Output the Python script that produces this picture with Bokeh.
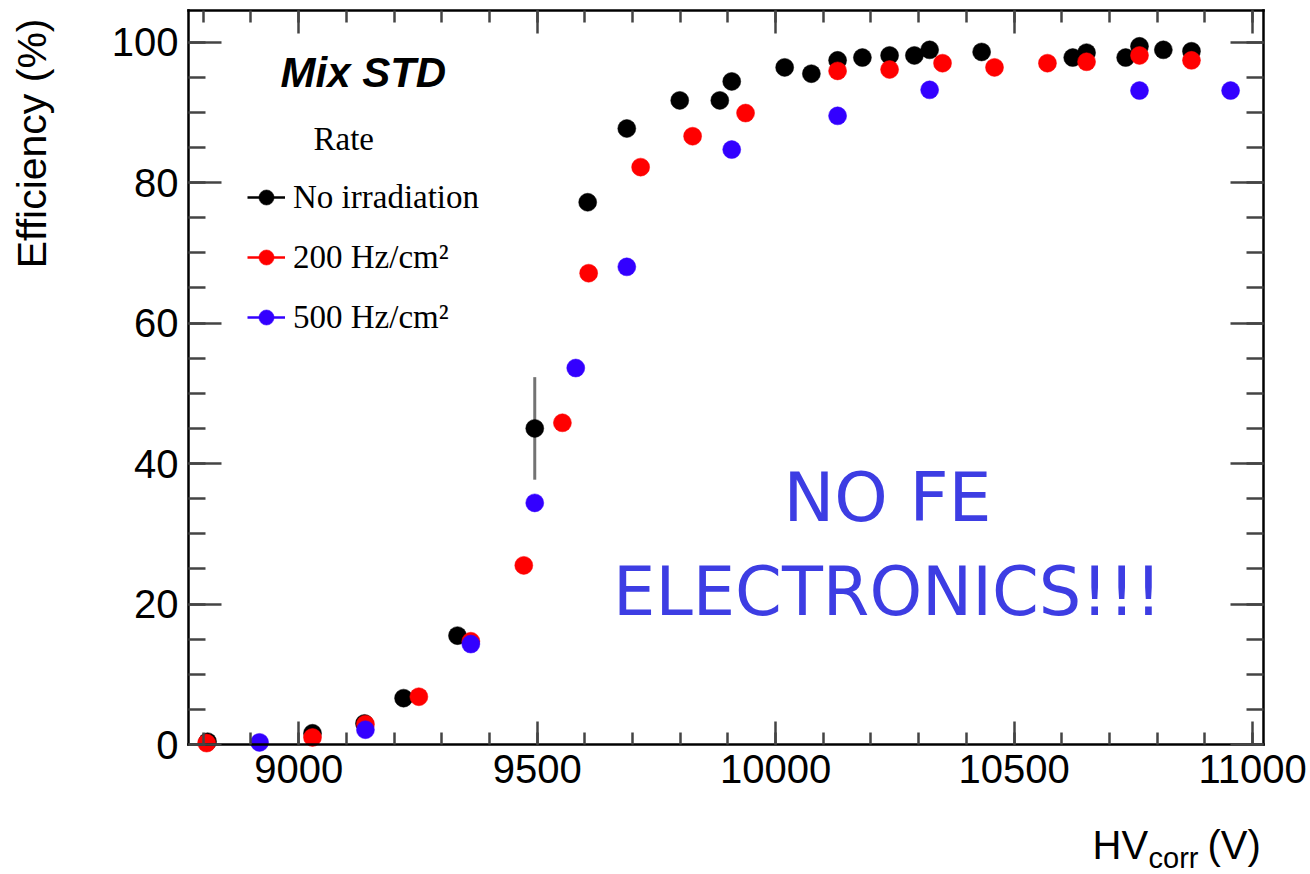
import math
from bokeh.plotting import figure
from bokeh.models import (Range1d, SingleIntervalTicker, LinearAxis, Label,
                          Legend, LegendItem, ColumnDataSource)
from bokeh.embed import file_html
from bokeh.resources import INLINE

# Efficiency vs corrected HV, three irradiation rates
hv_noirr = [8809, 9029, 9138, 9220, 9333, 9495, 9606, 9688, 9799, 9883, 9908,
            10019, 10075, 10130, 10182, 10239, 10291, 10323, 10432, 10623,
            10652, 10734, 10763, 10813, 10872]
eff_noirr = [0.4, 1.6, 3.0, 6.6, 15.5, 45.0, 77.2, 87.7, 91.7, 91.7, 94.4,
             96.4, 95.5, 97.4, 97.8, 98.1, 98.1, 98.9, 98.6, 97.8,
             98.5, 97.8, 99.4, 98.9, 98.7]
err_noirr = [0, 0, 0, 0, 0, 7.3, 0, 0, 0, 0, 0,
             0, 0, 0, 0, 0, 0, 0, 0, 0,
             0, 0, 0, 0, 0]

hv_200 = [8807, 9029, 9140, 9252, 9361, 9472, 9553, 9608, 9717, 9826, 9937,
          10130, 10239, 10350, 10459, 10570, 10652, 10763, 10872]
eff_200 = [0.2, 1.0, 2.9, 6.8, 14.7, 25.5, 45.8, 67.1, 82.2, 86.6, 89.9,
           95.9, 96.1, 97.0, 96.4, 97.0, 97.2, 98.1, 97.4]

hv_500 = [8918, 9140, 9361, 9495, 9581, 9688, 9908, 10130, 10323, 10763, 10954]
eff_500 = [0.3, 2.1, 14.3, 34.4, 53.6, 68.0, 84.7, 89.5, 93.2, 93.1, 93.1]

series_labels = ["No irradiation", "200 Hz/cm\u00b2", "500 Hz/cm\u00b2"]
series_colors = ["#000000", "#ff0000", "#3300ff"]

x_ticks_major = 500
y_ticks_major = 20

# axis box limits (data) and where that box sits on the canvas (pixels)
x_lo, x_hi = 8769, 11023
y_lo, y_hi = 0, 104.5
W, H = 1310, 874
box_left, box_right, box_top, box_bottom = 188, 1263, 10, 744

SANS = "Liberation Sans"
SERIF = "Liberation Serif"

# the plot frame spans the whole canvas; axes are pinned to the box edges
kx = (x_hi - x_lo) / (box_right - box_left)
ky = (y_hi - y_lo) / (box_bottom - box_top)
x_range = Range1d(x_lo - box_left * kx, x_hi + (W - box_right) * kx)
y_range = Range1d(y_lo - (H - box_bottom) * ky, y_hi + box_top * ky)

p = figure(width=W, height=H, output_backend="svg", toolbar_location=None,
           x_range=x_range, y_range=y_range,
           x_axis_type=None, y_axis_type=None,
           min_border_left=0, min_border_right=0,
           min_border_top=0, min_border_bottom=0)
p.background_fill_color = "white"
p.border_fill_color = "white"
p.outline_line_color = None


def make_axis(ticker, loc, bounds, show_labels, tick_major, tick_minor):
    ax = LinearAxis(ticker=ticker, fixed_location=loc, bounds=bounds)
    ax.axis_line_color = "black"
    ax.axis_line_width = 2.5
    ax.axis_line_cap = "square"
    ax.major_tick_in = tick_major
    ax.major_tick_out = 0
    ax.minor_tick_in = tick_minor
    ax.minor_tick_out = 0
    ax.major_tick_line_color = "#444444"
    ax.major_tick_line_width = 2.5
    ax.minor_tick_line_color = "#444444"
    ax.minor_tick_line_width = 2.5
    ax.major_label_text_font = SANS
    ax.major_label_text_font_size = "40px"
    ax.major_label_standoff = 10
    # mirrored axes (top, right) carry ticks only
    ax.major_label_text_color = "black" if show_labels else None
    return ax


def xt():
    return SingleIntervalTicker(interval=x_ticks_major, num_minor_ticks=5)


def yt():
    return SingleIntervalTicker(interval=y_ticks_major, num_minor_ticks=4)


p.add_layout(make_axis(xt(), y_lo, (x_lo, x_hi), True, 23, 12), "below")
p.add_layout(make_axis(xt(), y_hi, (x_lo, x_hi), False, 23, 12), "above")
p.add_layout(make_axis(yt(), x_lo, (y_lo, y_hi), True, 33, 17), "left")
p.add_layout(make_axis(yt(), x_hi, (y_lo, y_hi), False, 33, 17), "right")

# error bars
src_err = ColumnDataSource(dict(
    x=hv_noirr,
    lo=[e - d for e, d in zip(eff_noirr, err_noirr)],
    hi=[e + d for e, d in zip(eff_noirr, err_noirr)],
))
p.segment(x0="x", y0="lo", x1="x", y1="hi", source=src_err,
          line_color="black", line_alpha=0.55, line_width=3)

items = []
for hv, eff, lab, col in zip([hv_noirr, hv_200, hv_500],
                             [eff_noirr, eff_200, eff_500],
                             series_labels, series_colors):
    r = p.scatter(x=hv, y=eff, size=18, marker="circle",
                  fill_color=col, line_color=col, line_width=0.5)
    # one-point line: draws nothing on the plot, gives the legend its bar
    bar = p.line(x=hv[:1], y=eff[:1], line_color=col, line_width=2.5)
    items.append(LegendItem(label=lab, renderers=[bar, r]))

legend = Legend(items=items, location=(247, 536),
                label_text_font=SERIF, label_text_font_size="33px",
                label_text_color="black", label_standoff=8,
                glyph_width=38, glyph_height=42, spacing=18,
                padding=0, margin=0, border_line_color=None,
                background_fill_alpha=0)
p.add_layout(legend)


def label(text, x, y, size, font=SANS, color="black", style="normal",
          align="left", angle=0.0):
    return Label(x=x, y=H - y, x_units="screen", y_units="screen",
                 text=text, text_font=font, text_font_size=size,
                 text_font_style=style, text_color=color, angle=angle,
                 text_align=align, text_baseline="middle")


p.add_layout(label("Mix STD", 280, 72, "42px", style="bold italic"))
p.add_layout(label("Rate", 313, 138, "33px", font=SERIF))
p.add_layout(label("NO FE", 887, 497, "68px", font="DejaVu Sans",
                   color="#3d3de3", align="center"))
p.add_layout(label("ELECTRONICS!!!", 887, 591, "67px", font="DejaVu Sans",
                   color="#3d3de3", align="center"))

# axis titles
p.add_layout(label("Efficiency (%)", 31, 18, "41px", align="right",
                   angle=math.pi / 2))
p.add_layout(label("HV", 1092, 844, "40px"))
p.add_layout(label("corr", 1148, 857, "29px"))
p.add_layout(label("(V)", 1207, 844, "40px"))

open("out.html", "w").write(file_html(p, INLINE))
